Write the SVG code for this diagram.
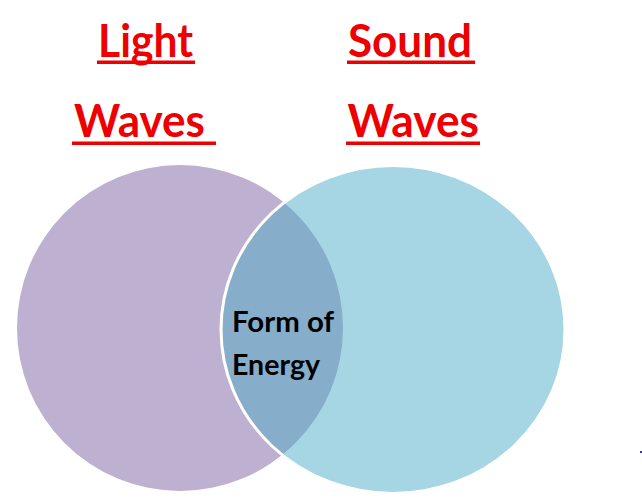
<svg xmlns="http://www.w3.org/2000/svg" width="642" height="501" viewBox="0 0 642 501">
  <style>
    .title { font-family: "Lato", "Liberation Sans", sans-serif; font-weight: bold; font-size: 45px; fill: #EE0000; }
    .uline { fill: #EE0000; }
    .label { font-family: "Lato", "Liberation Sans", sans-serif; font-weight: bold; font-size: 29px; fill: #000000; }
  </style>
  <defs>
    <clipPath id="clipRight">
      <ellipse cx="393" cy="329.5" rx="172" ry="164"/>
    </clipPath>
  </defs>
  <rect width="642" height="501" fill="#ffffff"/>

  <g id="light-waves-circle">
    <circle cx="180" cy="328" r="163" fill="#BDB0D0"/>
  </g>
  <g id="sound-waves-circle">
    <ellipse cx="393" cy="329.5" rx="172" ry="164" fill="#A6D5E3"/>
  </g>
  <g id="overlap">
    <circle cx="180" cy="328" r="163" fill="#86AECA" clip-path="url(#clipRight)"/>
    <ellipse cx="393" cy="329.5" rx="172" ry="164" fill="none" stroke="#ffffff" stroke-width="3"/>
    <text class="label" x="232" y="332" textLength="102" lengthAdjust="spacingAndGlyphs">Form of</text>
    <text class="label" x="232" y="375" textLength="88" lengthAdjust="spacingAndGlyphs">Energy</text>
  </g>

  <g id="title-light">
    <text class="title" x="98" y="57" textLength="95" lengthAdjust="spacingAndGlyphs">Light</text>
    <rect class="uline" x="97" y="60.5" width="98" height="3.5"/>
    <text class="title" x="74" y="137" textLength="131" lengthAdjust="spacingAndGlyphs">Waves</text>
    <rect class="uline" x="72" y="141.5" width="144" height="3.5"/>
  </g>
  <g id="title-sound">
    <text class="title" x="348" y="57" textLength="124" lengthAdjust="spacingAndGlyphs">Sound</text>
    <rect class="uline" x="347" y="60.5" width="128" height="3.5"/>
    <text class="title" x="347.5" y="137" textLength="131.5" lengthAdjust="spacingAndGlyphs">Waves</text>
    <rect class="uline" x="346" y="141.5" width="134" height="3.5"/>
  </g>
  <rect x="640" y="451" width="2" height="2" fill="#3333CC"/>
</svg>
